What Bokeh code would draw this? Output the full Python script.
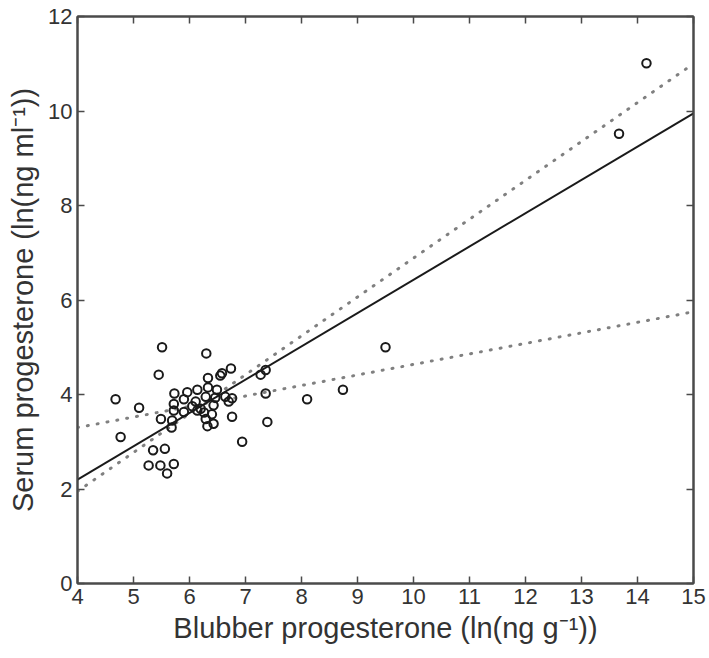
from bokeh.plotting import figure
from bokeh.models import LinearAxis, Range1d, FixedTicker
from bokeh.embed import file_html
from bokeh.resources import INLINE

# Blubber vs serum progesterone (natural log units)
blubber = [4.68, 4.77, 5.10, 5.45, 5.51, 5.49, 5.35, 5.56, 5.27, 5.48, 5.72, 5.60,
           5.68, 6.30, 6.74, 6.58, 6.55, 6.33, 7.27, 7.36, 7.36, 7.39, 6.94, 6.76,
           8.10, 8.74, 9.50, 13.67, 14.16,
           5.73, 5.96, 6.14, 6.33, 6.49, 5.72, 5.90, 6.11, 6.29, 6.46, 6.64, 6.76,
           6.70, 5.72, 5.90, 6.14, 6.26, 6.40, 6.43, 6.29, 6.43, 6.32, 5.69, 6.05,
           6.20]
serum = [3.90, 3.10, 3.72, 4.42, 5.00, 3.48, 2.82, 2.85, 2.50, 2.50, 2.53, 2.33,
         3.30, 4.87, 4.55, 4.45, 4.40, 4.35, 4.42, 4.52, 4.02, 3.42, 3.00, 3.53,
         3.90, 4.10, 5.00, 9.52, 11.01,
         4.02, 4.05, 4.10, 4.15, 4.10, 3.80, 3.90, 3.85, 3.95, 3.93, 3.95, 3.92,
         3.85, 3.66, 3.63, 3.66, 3.62, 3.58, 3.77, 3.48, 3.38, 3.33, 3.45, 3.75,
         3.70]

# Fitted line and its two dotted bounds, given at the ends of the x range
line_x = [4, 15]
fit_y = [2.20, 9.95]
upper_y = [1.95, 11.0]
lower_y = [3.30, 5.75]

x_ticks = list(range(4, 16))
y_ticks = [0, 2, 4, 6, 8, 10, 12]

p = figure(width=709, height=658, output_backend="svg", toolbar_location=None,
           x_range=Range1d(4, 15), y_range=Range1d(0, 12),
           x_axis_location=None, y_axis_location=None)
p.min_border_left = 77
p.min_border_right = 16
p.min_border_top = 16
p.min_border_bottom = 75
p.xgrid.visible = False
p.ygrid.visible = False
p.outline_line_color = "#4a4a4a"
p.outline_line_width = 2
p.background_fill_color = "white"
p.border_fill_color = "white"

FONT = "Liberation Sans"
AX_COLOR = "#4a4a4a"
TXT = "#333333"


def style(ax, labels=True):
    ax.axis_line_color = AX_COLOR
    ax.axis_line_width = 2
    ax.major_tick_line_color = AX_COLOR
    ax.major_tick_line_width = 1.5
    ax.major_tick_in = 7
    ax.major_tick_out = 0
    ax.minor_tick_line_color = None
    ax.major_label_text_font = FONT
    ax.major_label_text_font_size = "22px"
    ax.major_label_text_color = TXT if labels else None
    ax.axis_label_text_font = FONT
    ax.axis_label_text_font_size = "29px"
    ax.axis_label_text_color = TXT
    ax.axis_label_text_font_style = "normal"


xb = LinearAxis(ticker=FixedTicker(ticks=x_ticks),
                axis_label="Blubber progesterone (ln(ng g\u207b\u00b9))")
style(xb)
xb.major_label_standoff = 5
xb.axis_label_standoff = 5
p.add_layout(xb, "below")

yl = LinearAxis(ticker=FixedTicker(ticks=y_ticks),
                axis_label="Serum progesterone (ln(ng ml\u207b\u00b9))")
style(yl)
yl.major_label_standoff = 5
yl.axis_label_standoff = 6
p.add_layout(yl, "left")

xt = LinearAxis(ticker=FixedTicker(ticks=x_ticks))
style(xt, labels=False)
xt.major_label_standoff = 0
p.add_layout(xt, "above")

yr = LinearAxis(ticker=FixedTicker(ticks=y_ticks))
style(yr, labels=False)
yr.major_label_standoff = 0
p.add_layout(yr, "right")

p.line(line_x, upper_y, line_color="#808080", line_width=3, line_dash="1 9",
       line_cap="round")
p.line(line_x, lower_y, line_color="#808080", line_width=3, line_dash="1 9",
       line_cap="round")
p.line(line_x, fit_y, line_color="#1a1a1a", line_width=2)

p.scatter(blubber, serum, marker="circle", size=8.5, fill_color=None,
          line_color="#1a1a1a", line_width=2)

open("out.html", "w").write(file_html(p, INLINE))
